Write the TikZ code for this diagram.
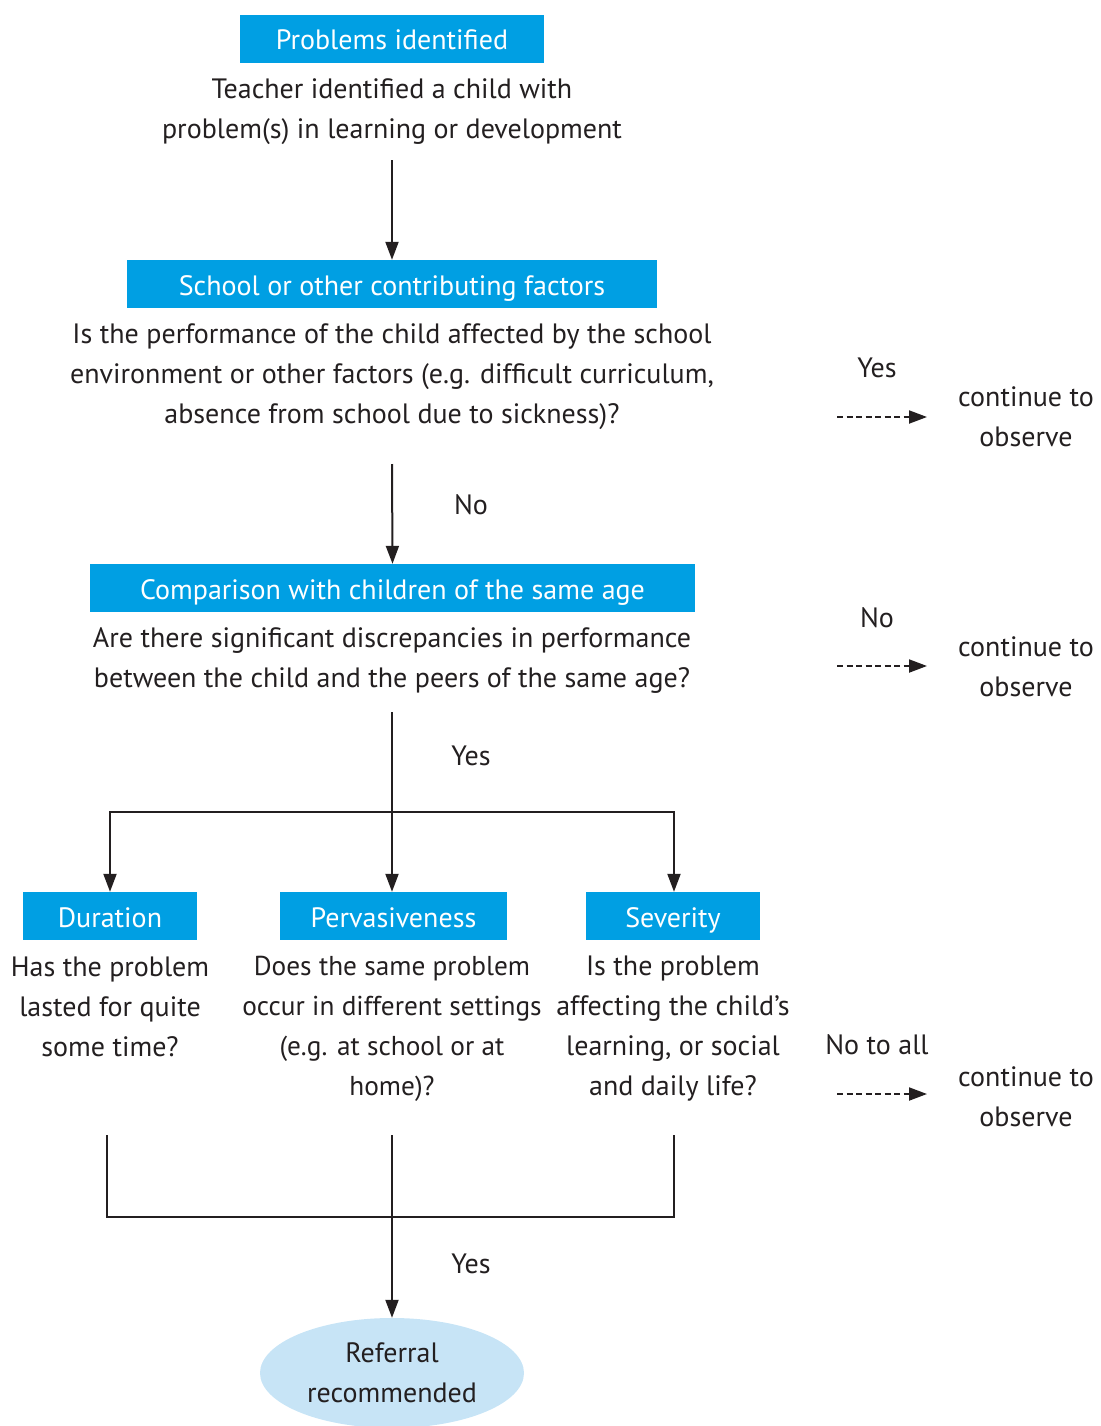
\documentclass[tikz,border=0pt]{standalone}
\usepackage{fontspec}
\setmainfont{PT Sans}
\usetikzlibrary{arrows.meta,shapes.geometric}
\definecolor{hdrc}{HTML}{009FE3}
\definecolor{ellc}{HTML}{C7E4F6}
\definecolor{ink}{HTML}{231F20}
\begin{document}
\begin{tikzpicture}[x=1pt,y=-1pt,
  hdr/.style={fill=hdrc, text=white, minimum height=48pt, inner sep=0pt, text height=28pt, text depth=6pt, font=\fontsize{28}{40}\selectfont},
  txt/.style={align=center, inner sep=0pt, font=\fontsize{28}{40}\selectfont, text=ink},
  arr/.style={draw=ink, line width=2pt, -{Triangle[length=18pt,width=13pt]}},
  ln/.style={draw=ink, line width=2pt},
  dsh/.style={draw=ink, line width=2pt, dash pattern=on 6pt off 3.5pt, -{Triangle[length=18pt,width=13pt]}}
]
\useasboundingbox (0,0) rectangle (1100,1426);

\node[hdr, minimum width=304pt] (b1) at (392,39) {Problems identified};
\node[txt] (t1) at (392,112) {Teacher identified a child with\\problem(s) in learning or development};

\node[hdr, minimum width=530pt] (b2) at (392,284) {School or other contributing factors};
\node[txt] (t2) at (392,377) {Is the performance of the child affected by the school\\environment or other factors (e.g. difficult curriculum,\\absence from school due to sickness)?};

\node[hdr, minimum width=605pt] (b3) at (392.5,588) {Comparison with children of the same age};
\node[txt] (t3) at (392,661) {Are there significant discrepancies in performance\\between the child and the peers of the same age?};

\node[hdr, minimum width=174pt] (bd) at (110,916) {Duration};
\node[hdr, minimum width=227pt] (bp) at (393.5,916) {Pervasiveness};
\node[hdr, minimum width=174pt] (bs) at (673,916) {Severity};

\node[txt] (dt) at (110,1007) {Has the problem\\lasted for quite\\some time?};
\node[txt, font=\fontsize{27.3}{40}\selectfont] (pt) at (392,1029) {Does the same problem\\occur in different settings\\(e.g. at school or at\\home)?};
\node[txt] (st) at (673,1029) {Is the problem\\affecting the child’s\\learning, or social\\and daily life?};

\node[ellipse, fill=ellc, minimum width=264pt, minimum height=110pt, inner sep=0pt, align=center, font=\fontsize{28}{40}\selectfont, text=ink] (ref) at (392,1373) {Referral\\recommended};

% labels
\node[txt] (lno1) at (471,505) {No};
\node[txt] (lyes1) at (471,756) {Yes};
\node[txt] (lyes2) at (471,1264) {Yes};
\node[txt] (ryes) at (877,368) {Yes};
\node[txt] (rno) at (877,618) {No};
\node[txt] (rall) at (877,1045) {No to all};

\node[txt, anchor=west] (o1) at (958,417) {continue to\\observe};
\node[txt, anchor=west] (o2) at (958,667) {continue to\\observe};
\node[txt, anchor=west] (o3) at (958,1097) {continue to\\observe};

\coordinate (d1) at (837,417);
\coordinate (d2) at (837,666);
\coordinate (d3) at (837,1094);
\draw[dsh, shorten >=31pt] (d1) -- (d1 -| o1.west);
\draw[dsh, shorten >=31pt] (d2) -- (d2 -| o2.west);
\draw[dsh, shorten >=31pt] (d3) -- (d3 -| o3.west);

% main flow
\coordinate (s1) at (392,160);
\coordinate (s2) at (392,464);
\coordinate (s3) at (392,712);
\draw[arr] (s1) -- (b2.north);
\draw[arr] (s2) -- (b3.north);
\coordinate (br) at (392,812);
\draw[ln] (s3) -- (br);
\draw[arr] (br) -- (br |- bp.north);
\draw[arr] (br) -| (bd.north);
\draw[arr] (br) -| ([xshift=1pt]bs.north);

\coordinate (sd) at (107,1135);
\coordinate (sp) at (392,1135);
\coordinate (ss) at (674,1135);
\coordinate (jn) at (392,1217);
\draw[ln] (sd) |- (jn);
\draw[ln] (ss) |- (jn);
\draw[ln] (sp) -- (jn);
\draw[arr] (jn) -- (ref.north);
\end{tikzpicture}
\end{document}
